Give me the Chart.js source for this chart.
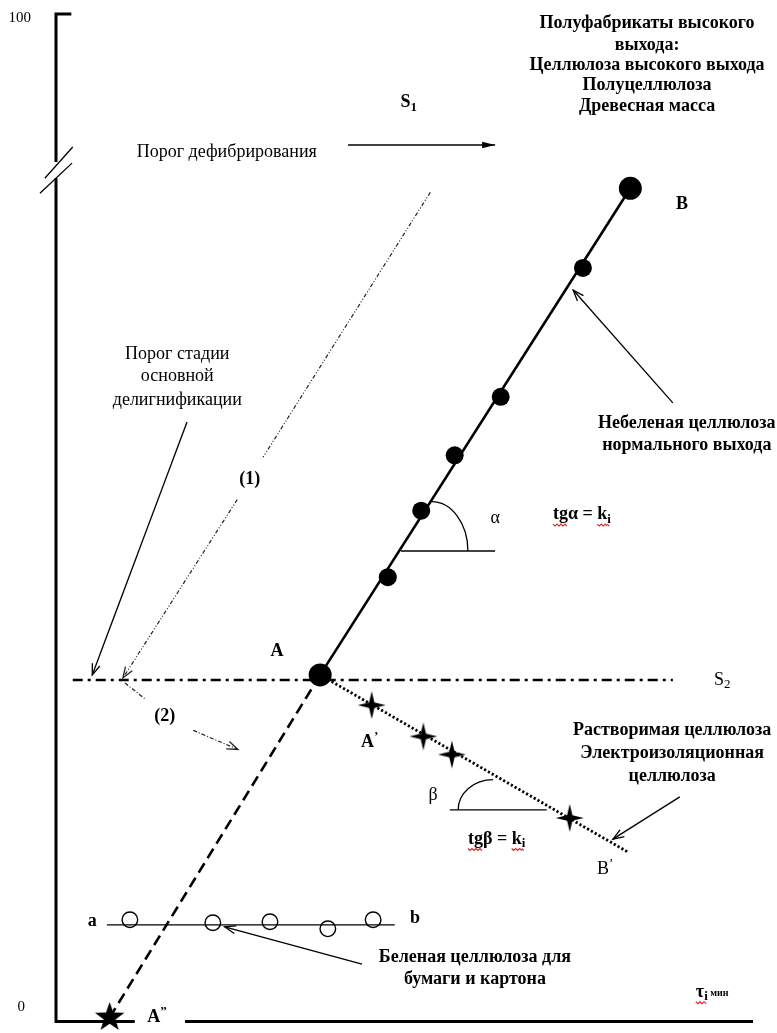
<!DOCTYPE html>
<html lang="ru">
<head>
<meta charset="utf-8">
<title>Кинетика делигнификации</title>
<script src="https://cdn.jsdelivr.net/npm/chart.js@4.4.0/dist/chart.umd.min.js"></script>
<style>
  html, body { margin: 0; padding: 0; background: #fff; }
  #wrap { width: 777px; height: 1033px; }
</style>
</head>
<body>
<div id="wrap"><canvas id="kineticsChart" width="777" height="1033"></canvas></div>
<script>
// y: выход, 0..100 ; x: время варки τi (отн. ед.)
const yTickValues = [0, 100];

// небеленая целлюлоза нормального выхода (прямая A–B)
const pointA = [37.9, 34.4];
const pointB = [82.4, 82.7];
const unbleachedX = [47.6, 52.4, 57.2, 63.8, 75.6];
const unbleachedY = [44.1, 50.7, 56.2, 62.0, 74.8];

// растворимая целлюлоза (прямая A–B')
const pointBPrime = [82.1, 16.8];
const dissolvingX = [45.3, 52.7, 56.8, 73.7];
const dissolvingY = [31.4, 28.3, 26.5, 20.2];

// A'' на оси абсцисс
const pointA2 = [7.7, 0.4];

// беленая целлюлоза (прямая a–b)
const bleachedX = [10.6, 22.5, 30.7, 39.0, 45.5];
const bleachedY = [10.1, 9.8, 9.9, 9.2, 10.1];
const bleachedLevel = 9.6;
const bleachedSpan = [7.3, 48.6];

// порог S2
const s2Level = 33.9;
const s2Span = [2.4, 88.5];

// оси с разрывом
const yAxisUpper = [[2.2, 100], [0, 100], [0, 85.3]];
const yAxisLower = [[0, 83.7], [0, 0], [11.3, 0]];
const xAxisRight = [[18.5, 0], [100, 0]];
const breakMarks = [[[-1.6, 83.7], [2.4, 86.8]], [[-2.3, 82.2], [2.3, 85.2]]];

// стрелки и вспомогательные линии
const defibArrow = [[41.9, 87.0], [63.0, 87.0]];
const stageArrow = [[18.8, 59.5], [5.2, 34.4]];
const path1Upper = [[53.7, 82.3], [29.7, 56.0]];
const path1Lower = [[26.0, 51.8], [9.6, 34.1]];
const path2Upper = [[9.9, 33.6], [12.8, 32.0]];
const path2Lower = [[19.7, 28.9], [26.1, 27.0]];
const unbleachedArrow = [[88.5, 61.4], [74.2, 72.6]];
const dissolvingArrow = [[89.5, 22.3], [79.9, 18.1]];
const bleachedArrow = [[43.9, 5.7], [24.2, 9.4]];
const alphaBase = [[49.5, 46.7], [63.0, 46.7]];
const betaBase = [[56.5, 21.0], [70.4, 21.0]];
const alphaArc = { cx: 53.9, cy: 46.7, rx: 5.2, ry: 4.9, from: -Math.PI / 2, to: 0 };
const betaArc = { cx: 62.7, cy: 21.0, rx: 5.0, ry: 3.0, from: Math.PI, to: 1.5 * Math.PI };

const SERIF = '"Liberation Serif", "Times New Roman", serif';

// подписи
const labels = [
  { x: -5.2, y: 99.6, parts: [{ t: String(yTickValues[1]) }], size: 15 },
  { x: -5.0, y: 1.4, parts: [{ t: String(yTickValues[0]) }], size: 15 },
  { x: 84.8, y: 99.1, parts: [{ t: "Полуфабрикаты высокого" }], bold: true },
  { x: 84.8, y: 96.9, parts: [{ t: "выхода:" }], bold: true },
  { x: 84.8, y: 94.9, parts: [{ t: "Целлюлоза высокого выхода" }], bold: true },
  { x: 84.8, y: 92.9, parts: [{ t: "Полуцеллюлоза" }], bold: true },
  { x: 84.8, y: 90.8, parts: [{ t: "Древесная масса" }], bold: true },
  { x: 50.6, y: 91.2, parts: [{ t: "S" }, { t: "1", sub: true }], bold: true },
  { x: 24.5, y: 86.3, parts: [{ t: "Порог дефибрирования" }] },
  { x: 89.8, y: 81.1, parts: [{ t: "B" }], bold: true },
  { x: 17.4, y: 66.2, parts: [{ t: "Порог стадии" }] },
  { x: 17.4, y: 64.0, parts: [{ t: "основной" }] },
  { x: 17.4, y: 61.7, parts: [{ t: "делигнификации" }] },
  { x: 27.8, y: 53.8, parts: [{ t: "(1)" }], bold: true },
  { x: 63.0, y: 49.9, parts: [{ t: "α" }] },
  { x: 71.3, y: 50.3, align: "left", bold: true,
    parts: [{ t: "tg", wavy: true }, { t: "α = " }, { t: "k", wavy: true }, { t: "i", sub: true, wavy: true }] },
  { x: 90.5, y: 59.4, parts: [{ t: "Небеленая целлюлоза" }], bold: true },
  { x: 90.5, y: 57.2, parts: [{ t: "нормального выхода" }], bold: true },
  { x: 31.7, y: 36.7, parts: [{ t: "A" }], bold: true },
  { x: 95.6, y: 33.9, parts: [{ t: "S" }, { t: "2", sub: true }] },
  { x: 15.6, y: 30.3, parts: [{ t: "(2)" }], bold: true },
  { x: 45.0, y: 27.7, parts: [{ t: "A" }, { t: "\u2019", sup: true }], bold: true },
  { x: 88.4, y: 28.9, parts: [{ t: "Растворимая целлюлоза" }], bold: true },
  { x: 88.4, y: 26.6, parts: [{ t: "Электроизоляционная" }], bold: true },
  { x: 88.4, y: 24.3, parts: [{ t: "целлюлоза" }], bold: true },
  { x: 54.1, y: 22.5, parts: [{ t: "β" }] },
  { x: 59.1, y: 18.1, align: "left", bold: true,
    parts: [{ t: "tg", wavy: true }, { t: "β = " }, { t: "k", wavy: true }, { t: "i", sub: true, wavy: true }] },
  { x: 78.8, y: 15.1, parts: [{ t: "B" }, { t: "\u2019", sup: true }] },
  { x: 5.2, y: 9.9, parts: [{ t: "a" }], bold: true },
  { x: 51.5, y: 10.2, parts: [{ t: "b" }], bold: true },
  { x: 60.1, y: 6.35, parts: [{ t: "Беленая целлюлоза для" }], bold: true },
  { x: 60.1, y: 4.17, parts: [{ t: "бумаги и картона" }], bold: true },
  { x: 14.5, y: 0.4, parts: [{ t: "A" }, { t: "\u201D", sup: true }], bold: true },
  { x: 91.8, y: 2.9, align: "left", bold: true,
    parts: [{ t: "τ", wavy: true }, { t: "i", sub: true, wavy: true }, { t: " мин", size: 10 }] }
];

// значки точек
function makeStar(n, outer, inner) {
  const c = document.createElement("canvas");
  const s = Math.ceil(outer * 2 + 2);
  c.width = s; c.height = s;
  const g = c.getContext("2d");
  g.fillStyle = "#000";
  g.beginPath();
  for (let i = 0; i < n * 2; i++) {
    const r = i % 2 === 0 ? outer : inner;
    const a = -Math.PI / 2 + (i * Math.PI) / n;
    const px = s / 2 + r * Math.cos(a), py = s / 2 + r * Math.sin(a);
    if (i === 0) g.moveTo(px, py); else g.lineTo(px, py);
  }
  g.closePath();
  g.fill();
  return c;
}
const star4 = makeStar(4, 14, 3.8);
const star5 = makeStar(5, 15.5, 6.2);

const pts = (arr) => arr.map(([x, y]) => ({ x, y }));
const zip = (xs, ys) => xs.map((x, i) => ({ x, y: ys[i] }));

function line(points, extra) {
  return Object.assign({
    data: pts(points),
    showLine: true,
    pointRadius: 0,
    borderColor: "#000",
    borderWidth: 1.2,
    clip: false,
    fill: false
  }, extra || {});
}

const datasets = [
  // оси
  line(yAxisUpper, { borderWidth: 3, borderJoinStyle: "miter" }),
  line(yAxisLower, { borderWidth: 3, borderJoinStyle: "miter" }),
  line(xAxisRight, { borderWidth: 3 }),
  line(breakMarks[0], { borderWidth: 1.3 }),
  line(breakMarks[1], { borderWidth: 1.3 }),
  // пороги и линии кинетики
  line([[s2Span[0], s2Level], [s2Span[1], s2Level]], { borderWidth: 2.6, borderDash: [10, 5, 3, 5] }),
  line([pointA2, pointA], { borderWidth: 2.6, borderDash: [11, 6] }),
  line([pointA, pointBPrime], { borderWidth: 2.8, borderDash: [2.2, 2.2] }),
  line([pointA, pointB], { borderWidth: 2.6 }),
  line([[bleachedSpan[0], bleachedLevel], [bleachedSpan[1], bleachedLevel]], { borderWidth: 1.3 }),
  line(path1Upper, { borderWidth: 1.2, borderColor: "#222", borderDash: [4, 2, 1, 2, 1, 2] }),
  line(path1Lower, { borderWidth: 1.2, borderColor: "#222", borderDash: [4, 2, 1, 2, 1, 2], arrow: "open" }),
  line(path2Upper, { borderWidth: 1.2, borderColor: "#222", borderDash: [4, 2, 1, 2] }),
  line(path2Lower, { borderWidth: 1.2, borderColor: "#222", borderDash: [4, 2, 1, 2], arrow: "open" }),
  line(stageArrow, { borderWidth: 1.3, arrow: "open" }),
  line(defibArrow, { borderWidth: 1.4, arrow: "filled" }),
  line(unbleachedArrow, { borderWidth: 1.3, arrow: "open" }),
  line(dissolvingArrow, { borderWidth: 1.3, arrow: "open" }),
  line(bleachedArrow, { borderWidth: 1.3, arrow: "open" }),
  line(alphaBase, { borderWidth: 1.3 }),
  line(betaBase, { borderWidth: 1.3 }),
  // точки
  { data: zip(unbleachedX, unbleachedY), pointRadius: 9, pointBackgroundColor: "#000", pointBorderWidth: 0, clip: false },
  { data: pts([pointA, pointB]), pointRadius: 11.5, pointBackgroundColor: "#000", pointBorderWidth: 0, clip: false },
  { data: zip(dissolvingX, dissolvingY), pointStyle: star4, clip: false },
  { data: pts([pointA2]), pointStyle: star5, clip: false },
  { data: zip(bleachedX, bleachedY), pointRadius: 7.8, pointBackgroundColor: "#fff", pointBorderColor: "#000", pointBorderWidth: 1.4, clip: false }
];

function drawLabel(ctx, lab, px, py) {
  const base = lab.size || 18;
  const weight = lab.bold ? "bold " : "";
  const runs = lab.parts.map((p) => {
    const sz = p.size || ((p.sub || p.sup) ? Math.round(base * 0.7) : base);
    const font = weight + sz + "px " + SERIF;
    ctx.font = font;
    return { p, font, w: ctx.measureText(p.t).width, dy: p.sub ? 4.5 : p.sup ? -5.5 : (p.size ? 1 : 0) };
  });
  const total = runs.reduce((s, r) => s + r.w, 0);
  let x = lab.align === "left" ? px : px - total / 2;
  ctx.textBaseline = "middle";
  ctx.textAlign = "left";
  ctx.fillStyle = "#000";
  runs.forEach((r) => {
    ctx.font = r.font;
    ctx.fillText(r.p.t, x, py + r.dy);
    if (r.p.wavy) {
      ctx.save();
      ctx.strokeStyle = "#e02020";
      ctx.lineWidth = 1.1;
      ctx.beginPath();
      const wy = py + base * 0.52;
      for (let k = 0; k <= r.w; k += 2) {
        const yy = wy + ((k / 2) % 2 === 0 ? 0 : 2);
        if (k === 0) ctx.moveTo(x + k, yy); else ctx.lineTo(x + k, yy);
      }
      ctx.stroke();
      ctx.restore();
    }
    x += r.w;
  });
}

const diagramPlugin = {
  id: "diagramDecor",
  afterDatasetsDraw(chart) {
    const ctx = chart.ctx;
    const xs = chart.scales.x, ys = chart.scales.y;
    ctx.save();
    // наконечники стрелок
    chart.data.datasets.forEach((ds, i) => {
      if (!ds.arrow) return;
      const el = chart.getDatasetMeta(i).data;
      const p1 = el[el.length - 2], p2 = el[el.length - 1];
      const ang = Math.atan2(p2.y - p1.y, p2.x - p1.x);
      const len = ds.arrow === "filled" ? 13 : 11, half = ds.arrow === "filled" ? 3.2 : 4;
      const bx = p2.x - len * Math.cos(ang), by = p2.y - len * Math.sin(ang);
      const nx = -Math.sin(ang) * half, ny = Math.cos(ang) * half;
      ctx.strokeStyle = ds.borderColor;
      ctx.fillStyle = ds.borderColor;
      ctx.lineWidth = 1.3;
      ctx.setLineDash([]);
      ctx.beginPath();
      ctx.moveTo(bx + nx, by + ny);
      ctx.lineTo(p2.x, p2.y);
      ctx.lineTo(bx - nx, by - ny);
      if (ds.arrow === "filled") { ctx.closePath(); ctx.fill(); } else ctx.stroke();
    });
    // дуги углов α и β
    [alphaArc, betaArc].forEach((a) => {
      const cx = xs.getPixelForValue(a.cx), cy = ys.getPixelForValue(a.cy);
      const rx = Math.abs(xs.getPixelForValue(a.cx + a.rx) - cx);
      const ry = Math.abs(ys.getPixelForValue(a.cy + a.ry) - cy);
      ctx.strokeStyle = "#000";
      ctx.lineWidth = 1.3;
      ctx.beginPath();
      ctx.ellipse(cx, cy, rx, ry, 0, a.from, a.to);
      ctx.stroke();
    });
    labels.forEach((lab) => drawLabel(ctx, lab, xs.getPixelForValue(lab.x), ys.getPixelForValue(lab.y)));
    ctx.restore();
  }
};

new Chart(document.getElementById("kineticsChart").getContext("2d"), {
  type: "scatter",
  data: { datasets: datasets },
  options: {
    responsive: false,
    animation: false,
    layout: { padding: { left: 56, right: 24, top: 14, bottom: 11 } },
    plugins: { legend: { display: false }, tooltip: { enabled: false } },
    scales: {
      x: { type: "linear", min: 0, max: 100, display: false },
      y: { type: "linear", min: 0, max: 100, display: false }
    }
  },
  plugins: [diagramPlugin]
});
</script>
</body>
</html>
